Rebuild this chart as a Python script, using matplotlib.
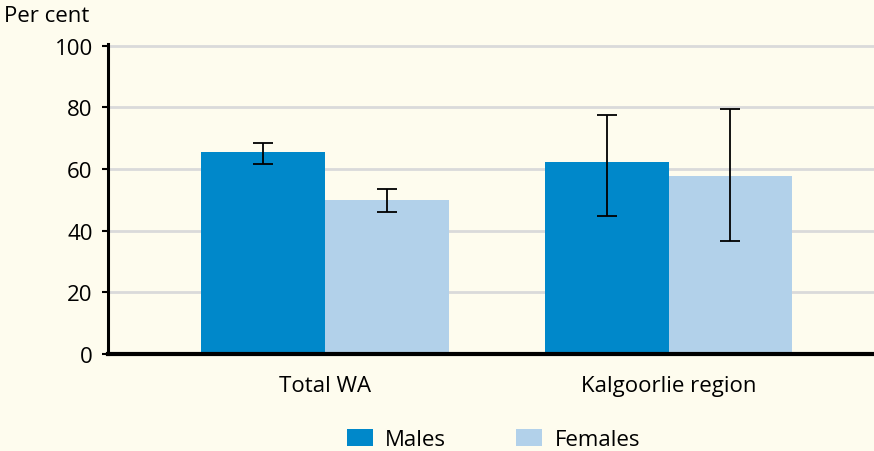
import matplotlib.pyplot as plt
import numpy as np

categories = ['Total WA', 'Kalgoorlie region']
males = [65.4, 62.1]
females = [49.9, 57.6]
males_lo = [61.5, 44.9]
males_hi = [68.5, 77.5]
females_lo = [46.0, 36.5]
females_hi = [53.5, 79.5]
yticks = [0, 20, 40, 60, 80, 100]

bg = '#FEFCEE'
plt.rcParams['font.family'] = ['Open Sans', 'DejaVu Sans']
fs = 16

fig = plt.figure(figsize=(8.74, 4.52), dpi=100, facecolor=bg)
ax = fig.add_axes([0.1236, 0.2146, 0.8764, 0.6858])
ax.set_facecolor(bg)

x = np.arange(len(categories))
w = 0.36
m = np.array(males); f = np.array(females)
merr = [m - np.array(males_lo), np.array(males_hi) - m]
ferr = [f - np.array(females_lo), np.array(females_hi) - f]
ax.bar(x - w/2, m, w, color='#0088CA', label='Males', zorder=2)
ax.bar(x + w/2, f, w, color='#B2D1EA', label='Females', zorder=2)
ax.errorbar(x - w/2, m, yerr=merr, fmt='none', ecolor='black', elinewidth=1.3, capsize=7, capthick=1.3, zorder=3)
ax.errorbar(x + w/2, f, yerr=ferr, fmt='none', ecolor='black', elinewidth=1.3, capsize=7, capthick=1.3, zorder=3)

ax.set_xlim(-0.632, 1.598)
ax.set_ylim(0, 100.5)
ax.set_yticks(yticks)
ax.set_yticklabels([str(t) for t in yticks], fontsize=fs)
ax.yaxis.grid(True, color='#DADADA', linewidth=2, zorder=0)
ax.set_axisbelow(True)
ax.set_xticks(x)
ax.set_xticklabels(categories, fontsize=fs)
ax.tick_params(axis='x', length=0, pad=15)
ax.tick_params(axis='y', length=4, width=1.5, pad=7)
for s in ['top', 'right']:
    ax.spines[s].set_visible(False)
ax.spines['left'].set_linewidth(2.2)
ax.spines['bottom'].set_linewidth(3)

fig.text(0.005, 0.963, 'Per cent', fontsize=fs, va='center', ha='left')
fig.legend(loc='center left', bbox_to_anchor=(336/874, 1 - 440.5/452), ncol=2, frameon=False,
           fontsize=fs, handlelength=1.17, handleheight=0.77, columnspacing=3.15, handletextpad=0.55,
           borderpad=0)

fig.savefig('out.png', dpi=100, facecolor=bg)
